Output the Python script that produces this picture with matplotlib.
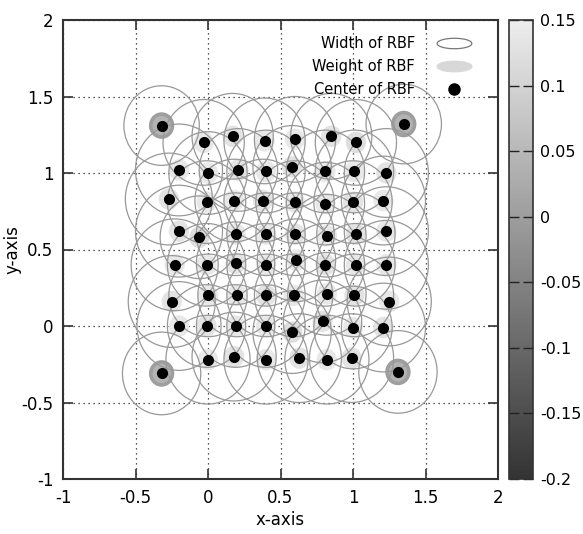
import numpy as np
import matplotlib.pyplot as plt
from matplotlib.patches import Circle, Ellipse
from matplotlib.colors import LinearSegmentedColormap, Normalize
from matplotlib.cm import ScalarMappable
from matplotlib.lines import Line2D
from matplotlib.path import Path

plt.rcParams['font.family'] = 'DejaVu Sans'
plt.rcParams['font.size'] = 11

# RBF centres: four corner units, then the 8x8 grid row by row (top to bottom)
center_x = [-0.32, 1.35, -0.32, 1.31,
            -0.03, 0.17, 0.39, 0.60, 0.85, 1.02,
            -0.20, 0.00, 0.21, 0.40, 0.58, 0.81, 1.01, 1.23,
            -0.27, -0.01, 0.18, 0.38, 0.60, 0.81, 1.00, 1.21,
            -0.20, -0.06, 0.19, 0.40, 0.60, 0.82, 1.02, 1.23,
            -0.23, -0.01, 0.19, 0.40, 0.61, 0.81, 1.02, 1.23,
            -0.25, 0.00, 0.20, 0.40, 0.59, 0.82, 1.01, 1.25,
            -0.20, -0.01, 0.19, 0.40, 0.58, 0.79, 1.00, 1.21,
            0.00, 0.18, 0.40, 0.63, 0.82, 0.99]
center_y = [1.31, 1.32, -0.31, -0.30,
            1.20, 1.24, 1.21, 1.22, 1.24, 1.20,
            1.02, 1.00, 1.02, 1.01, 1.04, 1.01, 1.01, 1.00,
            0.83, 0.81, 0.82, 0.82, 0.81, 0.80, 0.81, 0.82,
            0.62, 0.58, 0.60, 0.60, 0.60, 0.59, 0.60, 0.62,
            0.40, 0.40, 0.41, 0.40, 0.43, 0.40, 0.40, 0.40,
            0.16, 0.20, 0.20, 0.20, 0.20, 0.21, 0.20, 0.16,
            0.00, 0.00, 0.00, 0.00, -0.04, 0.03, -0.01, -0.01,
            -0.22, -0.20, -0.22, -0.21, -0.22, -0.21]
# RBF widths (radius of each unit)
rbf_width = [0.26, 0.26, 0.27, 0.27,
             0.28, 0.28, 0.28, 0.28, 0.28, 0.28,
             0.30, 0.27, 0.27, 0.27, 0.27, 0.27, 0.27, 0.29,
             0.30, 0.27, 0.27, 0.27, 0.27, 0.27, 0.27, 0.29,
             0.30, 0.27, 0.27, 0.27, 0.27, 0.27, 0.27, 0.29,
             0.30, 0.27, 0.27, 0.27, 0.27, 0.27, 0.27, 0.29,
             0.30, 0.27, 0.27, 0.27, 0.27, 0.27, 0.27, 0.29,
             0.29, 0.27, 0.27, 0.27, 0.27, 0.27, 0.27, 0.29,
             0.29, 0.29, 0.29, 0.29, 0.29, 0.29]
# RBF output weights
rbf_weight = [0.04, 0.04, 0.04, 0.04,
              0.14, 0.13, 0.14, 0.14, 0.13, 0.12,
              0.14, 0.14, 0.13, 0.14, 0.13, 0.14, 0.14, 0.13,
              0.13, 0.14, 0.14, 0.13, 0.14, 0.14, 0.13, 0.14,
              0.13, 0.12, 0.14, 0.14, 0.13, 0.14, 0.13, 0.14,
              0.14, 0.14, 0.13, 0.14, 0.14, 0.13, 0.14, 0.14,
              0.13, 0.14, 0.14, 0.13, 0.14, 0.14, 0.13, 0.14,
              0.14, 0.13, 0.14, 0.14, 0.12, 0.13, 0.14, 0.13,
              0.14, 0.13, 0.14, 0.13, 0.14, 0.13]

ticks = [-1, -0.5, 0, 0.5, 1, 1.5, 2]
tick_labels = ['-1', '-0.5', '0', '0.5', '1', '1.5', '2']
cb_ticks = [-0.2, -0.15, -0.1, -0.05, 0, 0.05, 0.1, 0.15]
cb_labels = ['-0.2', '-0.15', '-0.1', '-0.05', '0', '0.05', '0.1', '0.15']

cmap = LinearSegmentedColormap.from_list('rbfgray', [(0.2, 0.2, 0.2), (0.93, 0.93, 0.93)])
norm = Normalize(-0.2, 0.15)

fig = plt.figure(figsize=(5.83, 5.34), dpi=100)
ax = fig.add_axes([63/583, 55/534, 435/583, 459/534])
cax = fig.add_axes([509/583, 55/534, 24/583, 459/534])

# weight blobs (strong ones get a darker rim)
for x, y, w in zip(center_x, center_y, rbf_weight):
    col = cmap(norm(w))
    if w < 0.1:
        ax.add_patch(Ellipse((x, y), 0.15, 0.15, fc=col, ec=cmap(norm(0.0)),
                             lw=2.6, zorder=2))
    else:
        ax.add_patch(Ellipse((x, y), 0.14, 0.14, fc=col, ec='none', zorder=2))

# width circles
for x, y, r in zip(center_x, center_y, rbf_width):
    ax.add_patch(Circle((x, y), r, fill=False, ec='#989898', lw=0.9, zorder=3))

# centres
ax.scatter(center_x, center_y, s=64, c='black', zorder=4, linewidths=0)

ax.set_xlim(-1, 2)
ax.set_ylim(-1, 2)
ax.set_xticks(ticks)
ax.set_yticks(ticks)
ax.set_xticklabels(tick_labels, fontsize=12)
ax.set_yticklabels(tick_labels, fontsize=12)
ax.tick_params(direction='in', top=True, right=True, length=7, width=1.2,
               color='#333333', pad=7)
ax.grid(True, ls=(0, (1, 3)), color='#222222', lw=0.9, zorder=1)
for s in ax.spines.values():
    s.set_linewidth(1.5)
    s.set_color('#333333')

ax.set_xlabel('x-axis', fontsize=12)
ax.set_ylabel('y-axis', fontsize=12)
ax.xaxis.set_label_coords(0.5, -0.07)
ax.yaxis.set_label_coords(-0.095, 0.5)

# legend: label first, key on the right
t = np.linspace(0, 2 * np.pi, 80)
oval = Path(np.column_stack([np.cos(t), 0.3 * np.sin(t)]))
handles = [
    Line2D([], [], ls='none', marker=oval, markersize=25, mfc='white', mec='#777777', mew=0.9),
    Line2D([], [], ls='none', marker=oval, markersize=25, mfc='#d8d8d8', mec='#d8d8d8'),
    Line2D([], [], ls='none', marker='o', markersize=8, mfc='black', mec='black'),
]
labels = ['Width of RBF', 'Weight of RBF', 'Center of RBF']
ax.legend(handles, labels, loc='upper right', bbox_to_anchor=(0.935, 0.966),
          frameon=False, markerfirst=False, handlelength=2.1, handletextpad=1.65,
          labelspacing=0.55, borderpad=0, borderaxespad=0, fontsize=10.5)

# colour box
sm = ScalarMappable(norm=norm, cmap=cmap)
cb = fig.colorbar(sm, cax=cax, ticks=cb_ticks)
cb.ax.set_yticklabels(cb_labels, fontsize=11.5)
cb.ax.tick_params(direction='in', left=True, right=True, length=7, width=1.0,
                  color='#222222', pad=5)
cb.outline.set_linewidth(1.2)
cb.outline.set_edgecolor('#333333')

plt.savefig('out.png', dpi=100)
